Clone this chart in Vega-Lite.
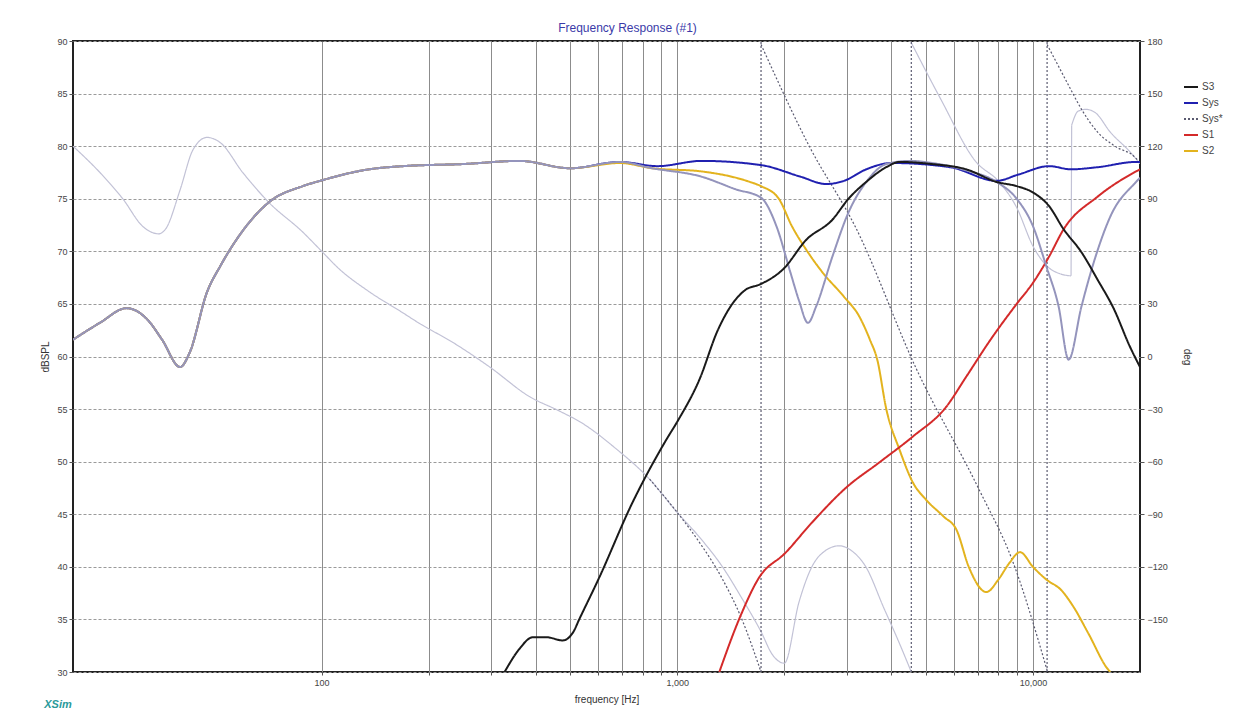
{
  "$schema": "https://vega.github.io/schema/vega-lite/v6.json",
  "width": 1067,
  "height": 631,
  "autosize": "none",
  "padding": {"left": 73, "top": 41, "right": 116, "bottom": 52},
  "background": "white",
  "title": {"text": "Frequency Response (#1)", "color": "#3a3aa8", "fontSize": 12, "fontWeight": "normal", "font": "Liberation Sans", "anchor": "middle", "frame": "group", "dx": 21, "offset": 2},
  "config": {
    "view": {"stroke": "#222", "strokeWidth": 2},
    "axis": {"labelFont": "Liberation Sans", "titleFont": "Liberation Sans", "labelFontSize": 9, "labelColor": "#444", "titleFontSize": 10, "titleFontWeight": "normal", "titleColor": "#333", "tickColor": "#555", "domain": false}
  },
  "datasets": {
    "mag": [
      {"f": 20, "v": 61.6, "s": "Sys"}, {"f": 23.8, "v": 63.2, "s": "Sys"}, {"f": 28.3, "v": 64.6, "s": "Sys"}, {"f": 32.4, "v": 63.5, "s": "Sys"}, {"f": 35.6, "v": 61.6, "s": "Sys"}, {"f": 40, "v": 59.0, "s": "Sys"}, {"f": 42.6, "v": 60.4, "s": "Sys"}, {"f": 47.6, "v": 66.1, "s": "Sys"}, {"f": 51.9, "v": 68.6, "s": "Sys"}, {"f": 57.6, "v": 71.1, "s": "Sys"}, {"f": 71.3, "v": 74.7, "s": "Sys"}, {"f": 88.5, "v": 76.2, "s": "Sys"}, {"f": 99, "v": 76.7, "s": "Sys"}, {"f": 136, "v": 77.8, "s": "Sys"}, {"f": 169, "v": 78.1, "s": "Sys"}, {"f": 250, "v": 78.3, "s": "Sys"}, {"f": 360, "v": 78.6, "s": "Sys"}, {"f": 500, "v": 77.9, "s": "Sys"}, {"f": 690, "v": 78.5, "s": "Sys"}, {"f": 880, "v": 78.1, "s": "Sys"}, {"f": 1170, "v": 78.6, "s": "Sys"}, {"f": 1720, "v": 78.2, "s": "Sys"}, {"f": 2220, "v": 77.1, "s": "Sys"}, {"f": 2620, "v": 76.4, "s": "Sys"}, {"f": 2940, "v": 76.7, "s": "Sys"}, {"f": 3400, "v": 77.8, "s": "Sys"}, {"f": 4000, "v": 78.4, "s": "Sys"}, {"f": 5850, "v": 78.0, "s": "Sys"}, {"f": 7900, "v": 76.7, "s": "Sys"}, {"f": 9100, "v": 77.3, "s": "Sys"}, {"f": 11100, "v": 78.1, "s": "Sys"}, {"f": 12800, "v": 77.8, "s": "Sys"}, {"f": 15200, "v": 78.0, "s": "Sys"}, {"f": 19500, "v": 78.5, "s": "Sys"}, {"f": 20000, "v": 78.5, "s": "Sys"},

      {"f": 20, "v": 61.6, "s": "S2"}, {"f": 23.8, "v": 63.2, "s": "S2"}, {"f": 28.3, "v": 64.6, "s": "S2"}, {"f": 32.4, "v": 63.5, "s": "S2"}, {"f": 35.6, "v": 61.6, "s": "S2"}, {"f": 40, "v": 59.0, "s": "S2"}, {"f": 42.6, "v": 60.4, "s": "S2"}, {"f": 47.6, "v": 66.1, "s": "S2"}, {"f": 51.9, "v": 68.6, "s": "S2"}, {"f": 57.6, "v": 71.1, "s": "S2"}, {"f": 71.3, "v": 74.7, "s": "S2"}, {"f": 88.5, "v": 76.2, "s": "S2"}, {"f": 99, "v": 76.7, "s": "S2"}, {"f": 136, "v": 77.8, "s": "S2"}, {"f": 169, "v": 78.1, "s": "S2"}, {"f": 250, "v": 78.3, "s": "S2"}, {"f": 360, "v": 78.6, "s": "S2"}, {"f": 500, "v": 77.9, "s": "S2"}, {"f": 690, "v": 78.4, "s": "S2"}, {"f": 850, "v": 77.9, "s": "S2"}, {"f": 1170, "v": 77.6, "s": "S2"}, {"f": 1600, "v": 76.6, "s": "S2"}, {"f": 1720, "v": 76.2, "s": "S2"}, {"f": 1930, "v": 75.0, "s": "S2"}, {"f": 2100, "v": 72.4, "s": "S2"}, {"f": 2300, "v": 70.2, "s": "S2"}, {"f": 2560, "v": 68.0, "s": "S2"}, {"f": 2940, "v": 65.7, "s": "S2"}, {"f": 3250, "v": 63.8, "s": "S2"}, {"f": 3480, "v": 61.6, "s": "S2"}, {"f": 3650, "v": 59.7, "s": "S2"}, {"f": 3870, "v": 55.0, "s": "S2"}, {"f": 4220, "v": 51.1, "s": "S2"}, {"f": 4600, "v": 48.0, "s": "S2"}, {"f": 5000, "v": 46.4, "s": "S2"}, {"f": 5600, "v": 44.8, "s": "S2"}, {"f": 6100, "v": 43.5, "s": "S2"}, {"f": 6600, "v": 40.0, "s": "S2"}, {"f": 7400, "v": 37.6, "s": "S2"}, {"f": 8000, "v": 38.8, "s": "S2"}, {"f": 8600, "v": 40.4, "s": "S2"}, {"f": 9200, "v": 41.4, "s": "S2"}, {"f": 10000, "v": 40.0, "s": "S2"}, {"f": 10900, "v": 38.8, "s": "S2"}, {"f": 12000, "v": 37.8, "s": "S2"}, {"f": 13000, "v": 36.2, "s": "S2"}, {"f": 14300, "v": 33.7, "s": "S2"}, {"f": 16300, "v": 30.2, "s": "S2"}, {"f": 16500, "v": 30.0, "s": "S2"},

      {"f": 1313, "v": 30.0, "s": "S1"}, {"f": 1500, "v": 35.2, "s": "S1"}, {"f": 1700, "v": 39.0, "s": "S1"}, {"f": 2010, "v": 41.3, "s": "S1"}, {"f": 2390, "v": 44.2, "s": "S1"}, {"f": 3000, "v": 47.6, "s": "S1"}, {"f": 3690, "v": 49.9, "s": "S1"}, {"f": 4600, "v": 52.4, "s": "S1"}, {"f": 5700, "v": 55.2, "s": "S1"}, {"f": 6500, "v": 58.1, "s": "S1"}, {"f": 7600, "v": 61.6, "s": "S1"}, {"f": 9000, "v": 65.0, "s": "S1"}, {"f": 10000, "v": 67.0, "s": "S1"}, {"f": 11100, "v": 69.5, "s": "S1"}, {"f": 12200, "v": 72.1, "s": "S1"}, {"f": 15200, "v": 75.2, "s": "S1"}, {"f": 19500, "v": 77.6, "s": "S1"}, {"f": 20000, "v": 77.8, "s": "S1"},

      {"f": 20, "v": 61.6, "s": "Mag*"}, {"f": 23.8, "v": 63.2, "s": "Mag*"}, {"f": 28.3, "v": 64.6, "s": "Mag*"}, {"f": 32.4, "v": 63.5, "s": "Mag*"}, {"f": 35.6, "v": 61.6, "s": "Mag*"}, {"f": 40, "v": 59.0, "s": "Mag*"}, {"f": 42.6, "v": 60.4, "s": "Mag*"}, {"f": 47.6, "v": 66.1, "s": "Mag*"}, {"f": 51.9, "v": 68.6, "s": "Mag*"}, {"f": 57.6, "v": 71.1, "s": "Mag*"}, {"f": 71.3, "v": 74.7, "s": "Mag*"}, {"f": 88.5, "v": 76.2, "s": "Mag*"}, {"f": 99, "v": 76.7, "s": "Mag*"}, {"f": 136, "v": 77.8, "s": "Mag*"}, {"f": 169, "v": 78.1, "s": "Mag*"}, {"f": 250, "v": 78.3, "s": "Mag*"}, {"f": 360, "v": 78.6, "s": "Mag*"}, {"f": 500, "v": 77.9, "s": "Mag*"}, {"f": 690, "v": 78.5, "s": "Mag*"}, {"f": 850, "v": 77.9, "s": "Mag*"}, {"f": 1170, "v": 77.1, "s": "Mag*"}, {"f": 1460, "v": 75.9, "s": "Mag*"}, {"f": 1720, "v": 75.1, "s": "Mag*"}, {"f": 1900, "v": 72.4, "s": "Mag*"}, {"f": 2080, "v": 68.0, "s": "Mag*"}, {"f": 2200, "v": 65.3, "s": "Mag*"}, {"f": 2330, "v": 63.2, "s": "Mag*"}, {"f": 2460, "v": 64.8, "s": "Mag*"}, {"f": 2730, "v": 69.5, "s": "Mag*"}, {"f": 3030, "v": 73.7, "s": "Mag*"}, {"f": 3400, "v": 76.6, "s": "Mag*"}, {"f": 3870, "v": 78.3, "s": "Mag*"}, {"f": 4500, "v": 78.6, "s": "Mag*"}, {"f": 5200, "v": 78.4, "s": "Mag*"}, {"f": 6490, "v": 77.7, "s": "Mag*"}, {"f": 7900, "v": 76.6, "s": "Mag*"}, {"f": 9000, "v": 75.0, "s": "Mag*"}, {"f": 10000, "v": 72.4, "s": "Mag*"}, {"f": 10900, "v": 68.6, "s": "Mag*"}, {"f": 11800, "v": 64.8, "s": "Mag*"}, {"f": 12600, "v": 59.7, "s": "Mag*"}, {"f": 13700, "v": 64.8, "s": "Mag*"}, {"f": 15000, "v": 69.5, "s": "Mag*"}, {"f": 16500, "v": 73.3, "s": "Mag*"}, {"f": 19500, "v": 76.6, "s": "Mag*"}, {"f": 20000, "v": 77.0, "s": "Mag*"},

      {"f": 327, "v": 30.0, "s": "S3"}, {"f": 360, "v": 32.2, "s": "S3"}, {"f": 392, "v": 33.3, "s": "S3"}, {"f": 430, "v": 33.3, "s": "S3"}, {"f": 476, "v": 33.0, "s": "S3"}, {"f": 510, "v": 33.8, "s": "S3"}, {"f": 530, "v": 35.0, "s": "S3"}, {"f": 600, "v": 38.8, "s": "S3"}, {"f": 748, "v": 46.1, "s": "S3"}, {"f": 932, "v": 52.1, "s": "S3"}, {"f": 1000, "v": 53.8, "s": "S3"}, {"f": 1154, "v": 57.8, "s": "S3"}, {"f": 1300, "v": 62.5, "s": "S3"}, {"f": 1428, "v": 65.0, "s": "S3"}, {"f": 1550, "v": 66.3, "s": "S3"}, {"f": 1720, "v": 66.9, "s": "S3"}, {"f": 1985, "v": 68.3, "s": "S3"}, {"f": 2306, "v": 71.1, "s": "S3"}, {"f": 2729, "v": 73.0, "s": "S3"}, {"f": 3030, "v": 75.0, "s": "S3"}, {"f": 3398, "v": 76.6, "s": "S3"}, {"f": 3868, "v": 78.0, "s": "S3"}, {"f": 4220, "v": 78.5, "s": "S3"}, {"f": 5200, "v": 78.3, "s": "S3"}, {"f": 6490, "v": 77.8, "s": "S3"}, {"f": 7900, "v": 76.6, "s": "S3"}, {"f": 9000, "v": 76.2, "s": "S3"}, {"f": 10000, "v": 75.6, "s": "S3"}, {"f": 11100, "v": 74.3, "s": "S3"}, {"f": 12200, "v": 72.1, "s": "S3"}, {"f": 13700, "v": 69.9, "s": "S3"}, {"f": 15200, "v": 67.3, "s": "S3"}, {"f": 16900, "v": 64.5, "s": "S3"}, {"f": 18700, "v": 61.0, "s": "S3"}, {"f": 20000, "v": 59.0, "s": "S3"}
    ],
    "phase": [
      {"f": 20, "d": 120, "s": "Ph", "g": "a"}, {"f": 23.8, "d": 105, "s": "Ph", "g": "a"}, {"f": 27.6, "d": 90, "s": "Ph", "g": "a"}, {"f": 31.5, "d": 74, "s": "Ph", "g": "a"}, {"f": 34.8, "d": 70, "s": "Ph", "g": "a"}, {"f": 36.5, "d": 73, "s": "Ph", "g": "a"}, {"f": 40, "d": 95, "s": "Ph", "g": "a"}, {"f": 43.5, "d": 118, "s": "Ph", "g": "a"}, {"f": 47.6, "d": 125, "s": "Ph", "g": "a"}, {"f": 51.9, "d": 122, "s": "Ph", "g": "a"}, {"f": 60, "d": 105, "s": "Ph", "g": "a"}, {"f": 71, "d": 88, "s": "Ph", "g": "a"}, {"f": 88.5, "d": 71, "s": "Ph", "g": "a"}, {"f": 99, "d": 61, "s": "Ph", "g": "a"}, {"f": 112, "d": 50, "s": "Ph", "g": "a"}, {"f": 136, "d": 37, "s": "Ph", "g": "a"}, {"f": 169, "d": 25, "s": "Ph", "g": "a"}, {"f": 188, "d": 19, "s": "Ph", "g": "a"}, {"f": 234, "d": 8, "s": "Ph", "g": "a"}, {"f": 297, "d": -6, "s": "Ph", "g": "a"}, {"f": 385, "d": -23, "s": "Ph", "g": "a"}, {"f": 465, "d": -31, "s": "Ph", "g": "a"}, {"f": 540, "d": -38, "s": "Ph", "g": "a"}, {"f": 667, "d": -52, "s": "Ph", "g": "a"}, {"f": 836, "d": -70, "s": "Ph", "g": "a"}, {"f": 1000, "d": -89, "s": "Ph", "g": "a"}, {"f": 1154, "d": -103, "s": "Ph", "g": "a"}, {"f": 1340, "d": -120, "s": "Ph", "g": "a"}, {"f": 1520, "d": -138, "s": "Ph", "g": "a"}, {"f": 1720, "d": -157, "s": "Ph", "g": "a"}, {"f": 1850, "d": -170, "s": "Ph", "g": "a"}, {"f": 2000, "d": -175, "s": "Ph", "g": "a"}, {"f": 2200, "d": -140, "s": "Ph", "g": "a"}, {"f": 2390, "d": -120, "s": "Ph", "g": "a"}, {"f": 2600, "d": -111, "s": "Ph", "g": "a"}, {"f": 2850, "d": -108, "s": "Ph", "g": "a"}, {"f": 3100, "d": -111, "s": "Ph", "g": "a"}, {"f": 3390, "d": -120, "s": "Ph", "g": "a"}, {"f": 3800, "d": -143, "s": "Ph", "g": "a"}, {"f": 4200, "d": -163, "s": "Ph", "g": "a"}, {"f": 4550, "d": -180, "s": "Ph", "g": "a"},
      {"f": 4550, "d": 179, "s": "Ph", "g": "b"}, {"f": 5500, "d": 147, "s": "Ph", "g": "b"}, {"f": 6920, "d": 111, "s": "Ph", "g": "b"}, {"f": 8000, "d": 100, "s": "Ph", "g": "b"}, {"f": 9000, "d": 85, "s": "Ph", "g": "b"}, {"f": 10000, "d": 63, "s": "Ph", "g": "b"}, {"f": 10900, "d": 52, "s": "Ph", "g": "b"}, {"f": 12000, "d": 47, "s": "Ph", "g": "b"}, {"f": 12800, "d": 46, "s": "Ph", "g": "b"},
      {"f": 12850, "d": 132, "s": "Ph", "g": "c"}, {"f": 13400, "d": 140, "s": "Ph", "g": "c"}, {"f": 14100, "d": 141, "s": "Ph", "g": "c"}, {"f": 15000, "d": 139, "s": "Ph", "g": "c"}, {"f": 16500, "d": 128, "s": "Ph", "g": "c"}, {"f": 18700, "d": 117, "s": "Ph", "g": "c"}, {"f": 20000, "d": 110, "s": "Ph", "g": "c"},
      {"f": 12800, "d": 46, "s": "Ph", "g": "j"}, {"f": 12850, "d": 132, "s": "Ph", "g": "j"},
      {"f": 836, "d": -70, "s": "Sys*", "g": "a"}, {"f": 1000, "d": -89, "s": "Sys*", "g": "a"}, {"f": 1154, "d": -106, "s": "Sys*", "g": "a"}, {"f": 1340, "d": -127, "s": "Sys*", "g": "a"}, {"f": 1520, "d": -150, "s": "Sys*", "g": "a"}, {"f": 1720, "d": -180, "s": "Sys*", "g": "a"},
      {"f": 1720, "d": -180, "s": "Sys*", "g": "w1"}, {"f": 1720, "d": 180, "s": "Sys*", "g": "w1"},
      {"f": 1720, "d": 178, "s": "Sys*", "g": "b"}, {"f": 2350, "d": 120, "s": "Sys*", "g": "b"}, {"f": 3185, "d": 73, "s": "Sys*", "g": "b"}, {"f": 4700, "d": -7, "s": "Sys*", "g": "b"}, {"f": 7060, "d": -76, "s": "Sys*", "g": "b"}, {"f": 8740, "d": -116, "s": "Sys*", "g": "b"}, {"f": 10960, "d": -179, "s": "Sys*", "g": "b"},
      {"f": 4550, "d": -180, "s": "Sys*", "g": "w2"}, {"f": 4550, "d": 180, "s": "Sys*", "g": "w2"},
      {"f": 10960, "d": -180, "s": "Sys*", "g": "w3"}, {"f": 10960, "d": 180, "s": "Sys*", "g": "w3"},
      {"f": 10960, "d": 178, "s": "Sys*", "g": "c"}, {"f": 12500, "d": 156, "s": "Sys*", "g": "c"}, {"f": 13700, "d": 141, "s": "Sys*", "g": "c"}, {"f": 15200, "d": 128, "s": "Sys*", "g": "c"}, {"f": 17000, "d": 120, "s": "Sys*", "g": "c"}, {"f": 19500, "d": 113, "s": "Sys*", "g": "c"}, {"f": 20000, "d": 110, "s": "Sys*", "g": "c"}
    ]
  },
  "encoding": {
    "x": {
      "field": "f", "type": "quantitative",
      "scale": {"type": "log", "domain": [20, 20000], "nice": false},
      "axis": {
        "values": [100, 200, 300, 400, 500, 600, 700, 800, 900, 1000, 2000, 3000, 4000, 5000, 6000, 7000, 8000, 9000, 10000],
        "labelExpr": "datum.value == 100 ? '100' : datum.value == 1000 ? '1,000' : datum.value == 10000 ? '10,000' : ''",
        "grid": true, "gridColor": "#8c8c8c", "gridWidth": 1, "gridOpacity": 1,
        "tickSize": 3, "labelPadding": 3,
        "title": "frequency [Hz]", "titlePadding": 7
      }
    }
  },
  "layer": [
    {
      "data": {"name": "phase"},
      "mark": {"type": "line", "strokeWidth": 1.2, "clip": true, "interpolate": "monotone"},
      "encoding": {
        "y": {
          "field": "d", "type": "quantitative",
          "scale": {"domain": [-180, 180], "nice": false, "zero": false},
          "axis": {"orient": "right", "values": [-150, -120, -90, -60, -30, 0, 30, 60, 90, 120, 150, 180], "grid": false, "tickSize": 4, "labelPadding": 3, "title": "deg", "titlePadding": 14}
        },
        "color": {
          "field": "s", "type": "nominal",
          "scale": {"domain": ["S3", "Sys", "Sys*", "S1", "S2", "Mag*", "Ph"], "range": ["#1a1a1a", "#2020b0", "#5a5a70", "#d42a2a", "#e3b31e", "#9494bc", "#c2c2d6"]},
          "legend": {"orient": "none", "legendX": 1110, "legendY": 38, "title": null, "values": ["S3", "Sys", "Sys*", "S1", "S2"], "symbolType": "stroke", "symbolSize": 196, "symbolStrokeWidth": 2, "labelFontSize": 10, "labelFont": "Liberation Sans", "labelColor": "#444", "rowPadding": 3, "labelOffset": 3, "padding": 0}
        },
        "strokeDash": {
          "field": "s", "type": "nominal",
          "scale": {"domain": ["S3", "Sys", "Sys*", "S1", "S2", "Mag*", "Ph"], "range": [[1, 0], [1, 0], [2, 2], [1, 0], [1, 0], [1, 0], [1, 0]]},
          "legend": {"orient": "none", "legendX": 1110, "legendY": 38, "title": null, "values": ["S3", "Sys", "Sys*", "S1", "S2"], "symbolType": "stroke", "symbolSize": 196, "symbolStrokeWidth": 2, "labelFontSize": 10, "labelFont": "Liberation Sans", "labelColor": "#444", "rowPadding": 3, "labelOffset": 3, "padding": 0}
        },
        "detail": {"field": "g"}
      }
    },
    {
      "layer": [
        {
          "data": {"name": "mag"},
          "mark": {"type": "line", "clip": true, "interpolate": "monotone"},
          "encoding": {
            "y": {
              "field": "v", "type": "quantitative",
              "scale": {"domain": [30, 90], "nice": false, "zero": false},
              "axis": {"values": [30, 35, 40, 45, 50, 55, 60, 65, 70, 75, 80, 85, 90], "grid": true, "gridDash": [3, 2], "gridColor": "#9a9a9a", "gridOpacity": 1, "tickSize": 4, "labelPadding": 2, "title": "dBSPL", "titlePadding": 6}
            },
            "color": {
              "field": "s", "type": "nominal",
              "scale": {"domain": ["S3", "Sys", "Sys*", "S1", "S2", "Mag*", "Ph"], "range": ["#1a1a1a", "#2020b0", "#5a5a70", "#d42a2a", "#e3b31e", "#9494bc", "#c2c2d6"]},
              "legend": {"orient": "none", "legendX": 1110, "legendY": 38, "title": null, "values": ["S3", "Sys", "Sys*", "S1", "S2"], "symbolType": "stroke", "symbolSize": 196, "symbolStrokeWidth": 2, "labelFontSize": 10, "labelFont": "Liberation Sans", "labelColor": "#444", "rowPadding": 3, "labelOffset": 3, "padding": 0}
            },
            "strokeDash": {
              "field": "s", "type": "nominal",
              "scale": {"domain": ["S3", "Sys", "Sys*", "S1", "S2", "Mag*", "Ph"], "range": [[1, 0], [1, 0], [2, 2], [1, 0], [1, 0], [1, 0], [1, 0]]},
              "legend": {"orient": "none", "legendX": 1110, "legendY": 38, "title": null, "values": ["S3", "Sys", "Sys*", "S1", "S2"], "symbolType": "stroke", "symbolSize": 196, "symbolStrokeWidth": 2, "labelFontSize": 10, "labelFont": "Liberation Sans", "labelColor": "#444", "rowPadding": 3, "labelOffset": 3, "padding": 0}
            },
            "strokeWidth": {
              "field": "s", "type": "nominal",
              "scale": {"domain": ["S3", "Sys", "S1", "S2", "Mag*"], "range": [2, 2, 2, 2, 1.6]},
              "legend": null
            }
          }
        },
        {
          "data": {"values": [{"f": 16.6, "v": 26.9, "t": "XSim"}]},
          "mark": {"type": "text", "align": "left", "baseline": "middle", "font": "Liberation Sans", "fontSize": 11, "fontStyle": "italic", "fontWeight": "bold", "color": "#2a9a9a"},
          "encoding": {
            "y": {
              "field": "v", "type": "quantitative",
              "scale": {"domain": [30, 90], "nice": false, "zero": false},
              "axis": {"values": [30, 35, 40, 45, 50, 55, 60, 65, 70, 75, 80, 85, 90], "grid": true, "gridDash": [3, 2], "gridColor": "#9a9a9a", "gridOpacity": 1, "tickSize": 4, "labelPadding": 2, "title": "dBSPL", "titlePadding": 6}
            },
            "text": {"field": "t"}
          }
        }
      ]
    }
  ],
  "resolve": {"scale": {"y": "independent"}}
}
